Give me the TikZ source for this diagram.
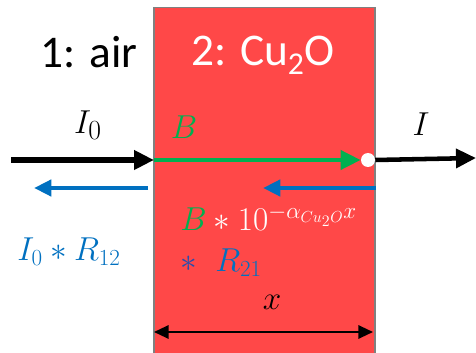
\documentclass[tikz,border=0pt]{standalone}
\usepackage{fontspec}
\setmainfont{Carlito}
\usetikzlibrary{positioning, arrows.meta}
\definecolor{slabred}{HTML}{FF4848}
\definecolor{beamgreen}{HTML}{00B050}
\definecolor{reflblue}{HTML}{0070C0}
\tikzset{
    medium/.style={font=\fontsize{34}{38}\selectfont, inner sep=0pt},
    mlabel/.style={font=\fontsize{31}{34}\selectfont, inner sep=0pt},
    slabel/.style={font=\fontsize{26}{30}\selectfont, inner sep=0pt},
    slabbox/.style={draw=gray, line width=0.8pt, fill=slabred, minimum width=165.75pt, minimum height=260pt, inner sep=0pt},
    beam/.style={line width=4pt, -{Triangle[length=15pt, width=14pt]}},
    refl/.style={reflblue, line width=3.4pt, -{Triangle[length=13pt, width=12pt]}},
    hole/.style={circle, fill=white, minimum size=10.5pt, inner sep=0pt}
}
\begin{document}
\begin{tikzpicture}[x=0.75pt, y=-0.75pt]
  \useasboundingbox (0,0) rectangle (476,353);
  \node(slab)[slabbox] at (264.5,180.5){};
  \node(air)[medium] at (89,52){1: air};
  \node(cu)[medium, text=white] at (263,55){2: Cu\textsubscript{2}O};
  % incoming and transmitted beams
  \coordinate(src) at (11,160);
  \coordinate(front) at (154,160);
  \node(dot)[hole] at (368,160){};
  \coordinate(out) at (476,158);
  \draw[beam](src)--(front);
  \draw[beam, beamgreen, line width=3.4pt](front)--(dot.west);
  \draw[beam, line width=3.4pt](dot.east)--(out);
  \node(I0)[mlabel] at (88,125){$I_0$};
  \node(I)[mlabel] at (421,124){$I$};
  \node(B)[slabel, text=beamgreen] at (184,127){$B$};
  % reflected beams
  \coordinate(back) at (376,188);
  \coordinate(backend) at (263,188);
  \coordinate(refl1) at (148,188);
  \coordinate(refl1end) at (34,188);
  \draw[refl](back)--(backend);
  \draw[refl](refl1)--(refl1end);
  \node(R12)[slabel, text=reflblue] at (69,252){$I_0*R_{12}$};
  \node(att)[slabel, text=white, anchor=west] at (180,218){$\textcolor{beamgreen}{B}*10^{-\alpha_{Cu_2O}x}$};
  \node(R21)[slabel, anchor=west] at (180,263){$\textcolor{reflblue!70!violet}{*}\;\;\textcolor{reflblue}{R_{21}}$};
  % thickness
  \coordinate(xl) at (154,332);
  \coordinate(xr) at (373,332);
  \draw[line width=1.6pt, {Triangle[length=11pt, width=10pt]}-{Triangle[length=11pt, width=10pt]}](xl)--(xr);
  \node(x)[slabel] at (272,302){$x$};
\end{tikzpicture}
\end{document}
